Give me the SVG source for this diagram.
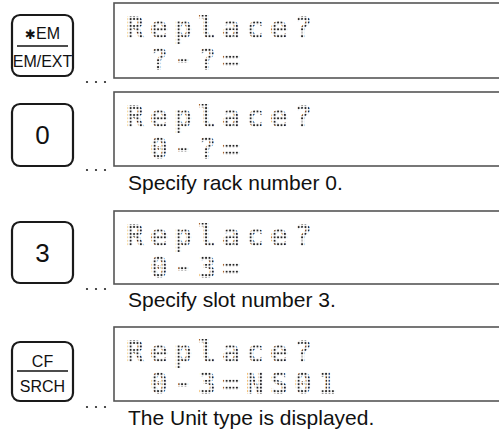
<svg xmlns="http://www.w3.org/2000/svg" width="499" height="432" viewBox="0 0 499 432">
<style>
.key{fill:#fff;stroke:#1a1a1a;stroke-width:2.2}
.kt{font-family:"Liberation Sans",Arial,sans-serif;fill:#111;text-anchor:middle}
.kl{stroke:#111;stroke-width:1.6}
.lcd{fill:#fff;stroke:#555;stroke-width:1.6}
.lt{font-family:"DejaVu Sans Mono",monospace;font-weight:bold;font-size:30px;letter-spacing:5.94px;fill:url(#dots)}
.cap{font-family:"Liberation Sans",Arial,sans-serif;font-size:21px;fill:#111}
.ell{fill:#222}
</style>
<defs>
<pattern id="dots" patternUnits="userSpaceOnUse" x="1.2" y="0.6" width="3.4286" height="3.4286">
<circle cx="1.7" cy="1.7" r="1.05" fill="#222"/>
</pattern>
</defs>
<g id="key1">
<rect class="key" x="12" y="15" width="61" height="61" rx="8"/>
<text class="kt" x="42.5" y="39" font-size="16"><tspan font-family="DejaVu Sans" font-size="13">✱</tspan>EM</text>
<line class="kl" x1="17" y1="46" x2="68" y2="46"/>
<text class="kt" x="42.5" y="67" font-size="16">EM/EXT</text>
</g>
<g id="key2">
<rect class="key" x="12" y="104" width="61" height="62" rx="8"/>
<text class="kt" x="42.5" y="144" font-size="26">0</text>
</g>
<g id="key3">
<rect class="key" x="12" y="222" width="61" height="61" rx="8"/>
<text class="kt" x="42.5" y="262" font-size="26">3</text>
</g>
<g id="key4">
<rect class="key" x="12" y="342" width="61" height="59" rx="8"/>
<text class="kt" x="42.5" y="367" font-size="16">CF</text>
<line class="kl" x1="17" y1="371" x2="68" y2="371"/>
<text class="kt" x="42.5" y="392" font-size="16">SRCH</text>
</g>
<g id="display1" transform="translate(114,3)">
<rect class="lcd" x="0" y="0" width="400" height="75"/>
<text class="lt" x="12" y="35">Replace?</text>
<text class="lt" x="36" y="67">?-?=</text>
</g>
<g id="display2" transform="translate(114,92)">
<rect class="lcd" x="0" y="0" width="400" height="74"/>
<text class="lt" x="12" y="35">Replace?</text>
<text class="lt" x="36" y="67">0-?=</text>
</g>
<g id="display3" transform="translate(114,211)">
<rect class="lcd" x="0" y="0" width="400" height="73"/>
<text class="lt" x="12" y="35">Replace?</text>
<text class="lt" x="36" y="67">0-3=</text>
</g>
<g id="display4" transform="translate(114,327)">
<rect class="lcd" x="0" y="0" width="400" height="74"/>
<text class="lt" x="12" y="35">Replace?</text>
<text class="lt" x="36" y="67">0-3=NS01</text>
</g>
<g id="ellipses">
<circle class="ell" cx="87" cy="82" r="1.1"/><circle class="ell" cx="96" cy="82" r="1.1"/><circle class="ell" cx="105" cy="82" r="1.1"/>
<circle class="ell" cx="87" cy="170" r="1.1"/><circle class="ell" cx="96" cy="170" r="1.1"/><circle class="ell" cx="105" cy="170" r="1.1"/>
<circle class="ell" cx="87" cy="289" r="1.1"/><circle class="ell" cx="96" cy="289" r="1.1"/><circle class="ell" cx="105" cy="289" r="1.1"/>
<circle class="ell" cx="87" cy="407" r="1.1"/><circle class="ell" cx="96" cy="407" r="1.1"/><circle class="ell" cx="105" cy="407" r="1.1"/>
</g>
<g id="captions">
<text class="cap" x="128" y="190">Specify rack number 0.</text>
<text class="cap" x="128" y="307">Specify slot number 3.</text>
<text class="cap" x="128" y="425">The Unit type is displayed.</text>
</g>
</svg>
